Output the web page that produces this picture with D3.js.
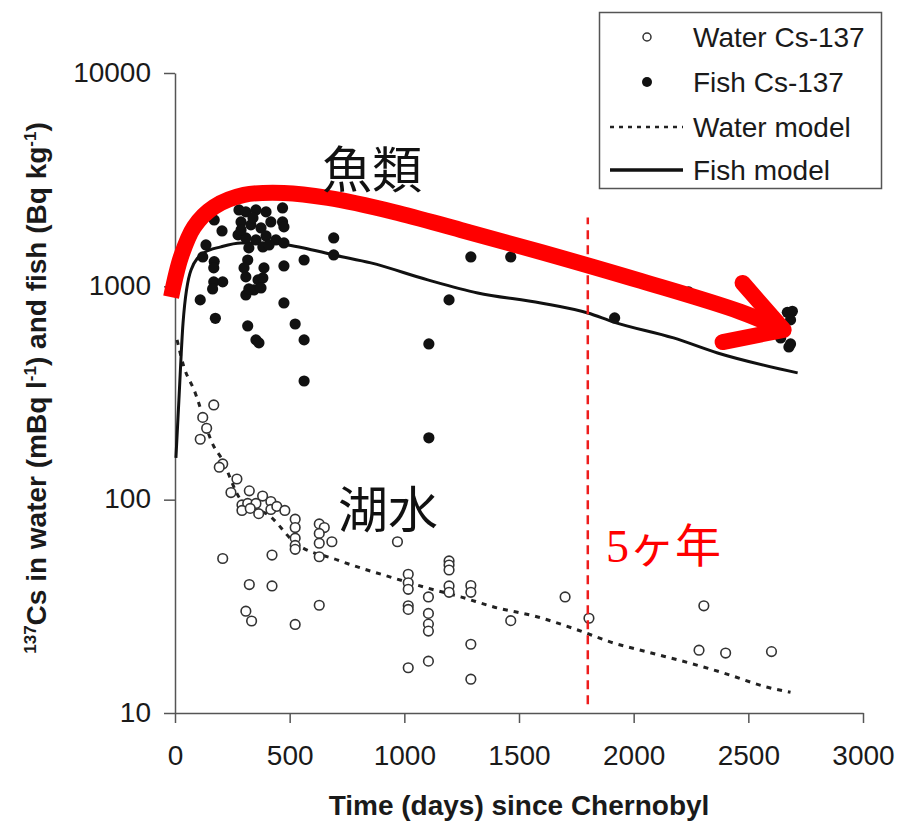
<!DOCTYPE html>
<html>
<head>
<meta charset="utf-8">
<script src="https://cdn.jsdelivr.net/npm/d3@7"></script>
<style>
  body { margin: 0; background: #fff; }
  svg { display: block; }
</style>
</head>
<body>
<svg id="chart" width="901" height="821"></svg>
<script>
var waterDays = [169, 121, 138, 110, 208, 193, 270, 324, 244, 382, 292, 317, 353, 292, 328, 365,
  418, 418, 444, 479, 524, 524, 524, 524, 524, 629, 651, 629, 629, 684, 629, 208, 423, 324, 423,
  309, 334, 524, 629, 970, 1017, 1017, 1017, 1017, 1017, 1017, 1105, 1105, 1105, 1105, 1105,
  1195, 1195, 1195, 1195, 1195, 1290, 1290, 1290, 1290, 1464, 1701, 1805, 2306, 2285, 2401, 2601];
var waterValues = [278, 243, 216, 192, 147, 142, 125, 110, 108, 104, 94.5, 96, 96, 89, 91, 86,
  98, 90, 93, 89, 81, 74, 66, 61, 58.5, 77, 74, 69.5, 62.5, 63.5, 54, 53, 55, 40, 39.4,
  30, 27, 26, 32, 63.5, 44.7, 40.8, 38, 31.8, 30.6, 16.3, 35, 29.3, 26.1, 24.2, 17.5,
  51.6, 49.4, 46.8, 39.4, 36.8, 39.6, 36.8, 21, 14.4, 27.1, 35, 27.8, 31.8, 19.7, 19.1, 19.4];

var fishDays = [171, 205, 135, 121, 171, 169, 169, 208, 164, 110, 176,
  279, 309, 353, 397, 288, 331, 375, 418, 275, 309, 353, 397, 440, 322, 383, 288, 340, 410,
  317, 301, 362, 309, 383, 388, 344, 309, 375, 322, 317, 353, 366,
  469, 469, 475, 475, 475, 475, 524, 563, 563, 563, 692, 692,
  1107, 1107, 1195, 1290, 1464, 1917, 2240, 2670, 2692, 2684, 2641, 2677, 2684];
var fishValues = [2048, 1818, 1563, 1373, 1306, 1220, 1049, 1049, 972, 864, 708,
  2281, 2233, 2281, 2233, 2004, 1941, 1878, 2004, 1742, 1686, 1650, 1723, 1650, 1514, 1529, 1838, 2093, 1563,
  1329, 1220, 1072, 1107, 1095, 1220, 962, 911, 983, 972, 652, 561, 543,
  2330, 2004, 1899, 1597, 1246, 836, 666, 1329, 561, 360, 1686, 1403,
  537, 195, 864, 1373, 1373, 711, 941, 755, 764, 696, 573, 520, 537];

// model curves
var waterModelDays = [9, 39, 83, 170, 200, 288, 418, 519, 710, 954, 1102, 1246, 1390, 1582, 1756,
  1900, 2061, 2248, 2392, 2584, 2684];
var waterModelValues = [561, 419, 327, 177, 158, 99.7, 83, 63.4, 52.1, 42.9, 38.5, 35, 31.4, 28.2, 24.5,
  21.5, 19.3, 17.1, 15.4, 13.2, 12.5];
var fishModelDays = [4, 17, 35, 70, 126, 200, 288, 418, 492, 562, 693, 854, 1102, 1320, 1595,
  1800, 1913, 2174, 2366, 2715];
var fishModelValues = [157, 293, 673, 1194, 1435, 1531, 1597, 1597, 1563, 1514, 1403, 1288, 1072, 931, 836,
  750, 680, 573, 487, 393];

// red annotation arrow (in data units)
var arrowDays = [-17, 26, 83, 170, 301, 475, 667, 954, 1246, 1595, 2031, 2466, 2654];
var arrowValues = [891, 1374, 1899, 2355, 2682, 2742, 2598, 2233, 1838, 1449, 1060, 759, 625];
var arrowHeadDays = [2475, 2654, 2388];
var arrowHeadValues = [1038, 625, 548];
var markerDay = 1800;
var markerRange = [11, 2100];

var xTicks = [0, 500, 1000, 1500, 2000, 2500, 3000];
var yTicks = [10, 100, 1000, 10000];
var legendLabels = ["Water Cs-137", "Fish Cs-137", "Water model", "Fish model"];

var svg = d3.select("#chart");
svg.append("rect").attr("width", 901).attr("height", 821).attr("fill", "#fff");

var x = d3.scaleLinear().domain([0, 3000]).range([175, 863]);
var y = d3.scaleLog().domain([10, 10000]).range([713, 73]);

var font = "'Liberation Sans', Arial, sans-serif";

// axes
var xAxis = svg.append("g")
    .attr("transform", "translate(0,713)")
    .call(d3.axisBottom(x).tickValues(xTicks).tickFormat(d3.format("d"))
      .tickSize(10).tickSizeOuter(0).tickPadding(22));
var yAxis = svg.append("g")
    .attr("transform", "translate(175,0)")
    .call(d3.axisLeft(y).tickValues(yTicks).tickFormat(d3.format("d"))
      .tickSize(11).tickSizeOuter(0).tickPadding(13));

[xAxis, yAxis].forEach(function(g) {
  g.selectAll("path, line").attr("stroke", "#555").attr("stroke-width", 1.5);
  g.selectAll("text").attr("fill", "#1a1a1a")
    .style("font-family", font).style("font-size", "28px");
});
yAxis.selectAll("text").attr("dy", "0.29em");

svg.append("text")
    .attr("x", 519).attr("y", 815)
    .attr("text-anchor", "middle")
    .style("font-family", font).style("font-size", "28px").style("font-weight", "bold")
    .attr("fill", "#1a1a1a")
    .text("Time (days) since Chernobyl");

var yTitle = svg.append("text")
    .attr("transform", "translate(46,388) rotate(-90)")
    .attr("text-anchor", "middle")
    .style("font-family", font).style("font-size", "28px").style("font-weight", "bold")
    .attr("fill", "#1a1a1a");
yTitle.append("tspan").attr("dy", -10).style("font-size", "17px").text("137");
yTitle.append("tspan").attr("dy", 10).text("Cs in water (mBq l");
yTitle.append("tspan").attr("dy", -10).style("font-size", "17px").text("-1");
yTitle.append("tspan").attr("dy", 10).text(") and fish (Bq kg");
yTitle.append("tspan").attr("dy", -10).style("font-size", "17px").text("-1");
yTitle.append("tspan").attr("dy", 10).text(")");

// model lines and points
function series(days, vals) {
  return days.map(function(d, i) { return [d, vals[i]]; });
}
var line = d3.line()
    .x(function(d) { return x(d[0]); })
    .y(function(d) { return y(d[1]); })
    .curve(d3.curveMonotoneX);

svg.append("path")
    .datum(series(waterModelDays, waterModelValues))
    .attr("d", line)
    .attr("fill", "none").attr("stroke", "#222")
    .attr("stroke-width", 3).attr("stroke-dasharray", "5,6");

svg.append("g").selectAll("circle")
    .data(series(waterDays, waterValues))
    .join("circle")
    .attr("cx", function(d) { return x(d[0]); })
    .attr("cy", function(d) { return y(d[1]); })
    .attr("r", 4.8)
    .attr("fill", "#fff").attr("stroke", "#333").attr("stroke-width", 1.6);

svg.append("path")
    .datum(series(fishModelDays, fishModelValues))
    .attr("d", line)
    .attr("fill", "none").attr("stroke", "#111").attr("stroke-width", 3);

svg.append("g").selectAll("circle")
    .data(series(fishDays, fishValues))
    .join("circle")
    .attr("cx", function(d) { return x(d[0]); })
    .attr("cy", function(d) { return y(d[1]); })
    .attr("r", 5.6)
    .attr("fill", "#111");

// 5 year marker
svg.append("line")
    .attr("x1", x(markerDay)).attr("x2", x(markerDay))
    .attr("y1", y(markerRange[0])).attr("y2", y(markerRange[1]))
    .attr("stroke", "#ee1c1c").attr("stroke-width", 2.5)
    .attr("stroke-dasharray", "9,6");

// red arrow
var arrowLine = d3.line()
    .x(function(d) { return x(d[0]); })
    .y(function(d) { return y(d[1]); })
    .curve(d3.curveCatmullRom.alpha(0.5));
svg.append("path")
    .datum(series(arrowDays, arrowValues))
    .attr("d", arrowLine)
    .attr("fill", "none").attr("stroke", "#ff0000").attr("stroke-width", 16);
svg.append("path")
    .datum(series(arrowHeadDays, arrowHeadValues))
    .attr("d", d3.line().x(function(d) { return x(d[0]); }).y(function(d) { return y(d[1]); }))
    .attr("fill", "none").attr("stroke", "#ff0000").attr("stroke-width", 16)
    .attr("stroke-linecap", "round").attr("stroke-linejoin", "round");

// Japanese annotations
var cjk = "'Noto Sans CJK JP', 'Noto Sans CJK SC', sans-serif";
svg.append("text").attr("x", 322).attr("y", 188)
    .style("font-family", cjk).style("font-size", "50px").attr("fill", "#111")
    .text("魚類");
svg.append("text").attr("x", 338).attr("y", 528)
    .style("font-family", cjk).style("font-size", "50px").attr("fill", "#111")
    .text("湖水");
svg.append("text").attr("x", 606).attr("y", 562)
    .style("font-family", "'Liberation Serif', 'Noto Sans CJK JP', serif")
    .style("font-size", "46px").attr("fill", "#ff0000")
    .text("5ヶ年");

// legend
var legend = svg.append("g");
legend.append("rect")
    .attr("x", 599.5).attr("y", 12.5).attr("width", 282).attr("height", 176)
    .attr("fill", "#fff").attr("stroke", "#555").attr("stroke-width", 1.5);
var rowY = [37, 82, 127, 170];
legend.append("circle").attr("cx", 647).attr("cy", rowY[0]).attr("r", 4)
    .attr("fill", "#fff").attr("stroke", "#333").attr("stroke-width", 1.5);
legend.append("circle").attr("cx", 647).attr("cy", rowY[1]).attr("r", 5).attr("fill", "#111");
legend.append("line").attr("x1", 610).attr("x2", 683).attr("y1", rowY[2]).attr("y2", rowY[2])
    .attr("stroke", "#222").attr("stroke-width", 2.5).attr("stroke-dasharray", "4,5");
legend.append("line").attr("x1", 610).attr("x2", 683).attr("y1", rowY[3]).attr("y2", rowY[3])
    .attr("stroke", "#111").attr("stroke-width", 3.5);
legend.selectAll("text.lab")
    .data(legendLabels)
    .join("text")
    .attr("class", "lab")
    .attr("x", 693)
    .attr("y", function(d, i) { return rowY[i] + 10; })
    .style("font-family", font).style("font-size", "28px").attr("fill", "#1a1a1a")
    .text(function(d) { return d; });
</script>
</body>
</html>
